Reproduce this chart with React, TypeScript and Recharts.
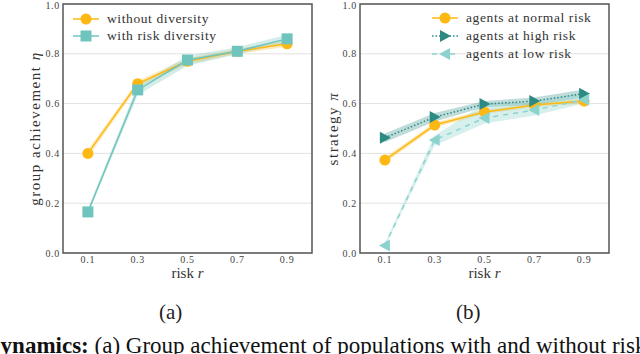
import React from 'react'
import { ComposedChart, Line, Area, XAxis, YAxis, CartesianGrid, ReferenceArea, Legend, Label } from 'recharts'

const risks = [0.1, 0.3, 0.5, 0.7, 0.9]
const yTicks = [0, 0.2, 0.4, 0.6, 0.8, 1.0]

// (a) group achievement
const withoutDiv = [0.4, 0.68, 0.77, 0.81, 0.84]
const withoutDivLo = [0.385, 0.668, 0.758, 0.8, 0.828]
const withoutDivHi = [0.415, 0.692, 0.782, 0.82, 0.852]
const withDiv = [0.165, 0.655, 0.775, 0.81, 0.86]
const withDivLo = [0.155, 0.635, 0.752, 0.798, 0.843]
const withDivHi = [0.178, 0.675, 0.792, 0.826, 0.877]

// (b) strategy
const normalRisk = [0.373, 0.514, 0.566, 0.594, 0.61]
const normalRiskLo = [0.362, 0.504, 0.558, 0.585, 0.6]
const normalRiskHi = [0.385, 0.524, 0.575, 0.602, 0.62]
const highRisk = [0.463, 0.546, 0.598, 0.61, 0.64]
const highRiskLo = [0.445, 0.528, 0.585, 0.595, 0.625]
const highRiskHi = [0.48, 0.562, 0.61, 0.625, 0.657]
const lowRisk = [0.03, 0.454, 0.542, 0.574, 0.615]
const lowRiskLo = [0.025, 0.432, 0.52, 0.552, 0.6]
const lowRiskHi = [0.04, 0.472, 0.598, 0.605, 0.645]

const ORANGE = '#FDB813'
const TEAL = '#6FC4BE'
const DARK = '#2C8A83'
const LIGHT = '#8CD3CE'

const leftData = risks.map((r, i) => ({
  r,
  without: withoutDiv[i],
  withoutBand: [withoutDivLo[i], withoutDivHi[i]],
  with: withDiv[i],
  withBand: [withDivLo[i], withDivHi[i]],
}))

const rightData = risks.map((r, i) => ({
  r,
  normal: normalRisk[i],
  normalBand: [normalRiskLo[i], normalRiskHi[i]],
  high: highRisk[i],
  highBand: [highRiskLo[i], highRiskHi[i]],
  low: lowRisk[i],
  lowBand: [lowRiskLo[i], lowRiskHi[i]],
}))

const circleDot = (color: string) => (p: any) =>
  <circle key={`c${p.index}`} cx={p.cx} cy={p.cy} r={5.5} fill={color} />
const squareDot = (color: string) => (p: any) =>
  <rect key={`s${p.index}`} x={p.cx - 5.5} y={p.cy - 5.5} width={11} height={11} fill={color} />
const triRight = (color: string) => (p: any) =>
  <polygon key={`tr${p.index}`} points={`${p.cx - 5},${p.cy - 6} ${p.cx + 6},${p.cy} ${p.cx - 5},${p.cy + 6}`} fill={color} />
const triLeft = (color: string) => (p: any) =>
  <polygon key={`tl${p.index}`} points={`${p.cx + 5},${p.cy - 6} ${p.cx - 6},${p.cy} ${p.cx + 5},${p.cy + 6}`} fill={color} />

const serif = '"Liberation Serif", serif'
const tickStyle = { fontSize: 10, fill: '#444', fontFamily: serif, letterSpacing: 0.7 }

type Item = { label: string; color: string; dash?: string; marker: (x: number, y: number) => React.ReactNode }

const LegendBox = ({ items, rowH }: { items: Item[]; rowH: number }) => (
  <div>
    {items.map((it) => (
      <div key={it.label} style={{ display: 'flex', alignItems: 'center', height: rowH }}>
        <svg width={26} height={14} style={{ marginRight: 8 }}>
          <line x1={0} y1={7} x2={26} y2={7} stroke={it.color} strokeWidth={1.5} strokeDasharray={it.dash} />
          {it.marker(13, 7)}
        </svg>
        <span style={{ fontFamily: serif, fontSize: 13.5, letterSpacing: 0.6, color: '#333', whiteSpace: 'nowrap' }}>{it.label}</span>
      </div>
    ))}
  </div>
)

const leftItems: Item[] = [
  { label: 'without diversity', color: ORANGE, marker: (x, y) => <circle cx={x} cy={y} r={5.5} fill={ORANGE} /> },
  { label: 'with risk diversity', color: TEAL, marker: (x, y) => <rect x={x - 5.5} y={y - 5.5} width={11} height={11} fill={TEAL} /> },
]

const rightItems: Item[] = [
  { label: 'agents at normal risk', color: ORANGE, marker: (x, y) => <circle cx={x} cy={y} r={5.5} fill={ORANGE} /> },
  { label: 'agents at high risk', color: DARK, dash: '1.5 2', marker: (x, y) => <polygon points={`${x - 5},${y - 6} ${x + 6},${y} ${x - 5},${y + 6}`} fill={DARK} /> },
  { label: 'agents at low risk', color: LIGHT, dash: '5 4', marker: (x, y) => <polygon points={`${x + 5},${y - 6} ${x - 6},${y} ${x + 5},${y + 6}`} fill={LIGHT} /> },
]

const xLabel = (props: any) => {
  const { x, y, width } = props.viewBox
  return (
    <text x={x + width / 2} y={y + 25} textAnchor="middle" fontSize={15} fontFamily={serif} fill="#333">
      risk <tspan fontStyle="italic">r</tspan>
    </text>
  )
}

const yLabel = (text: string, sym: string, cxOff: number) => (props: any) => {
  const { x, y, height } = props.viewBox
  const cx = x + cxOff
  const cy = y + height / 2
  return (
    <text x={cx} y={cy} textAnchor="middle" dominantBaseline="central" fontSize={15} letterSpacing={1.5} fontFamily={serif} fill="#333"
      transform={`rotate(-90 ${cx} ${cy})`}>
      {text} <tspan fontStyle="italic">{sym}</tspan>
    </text>
  )
}

export default function App() {
  return (
    <div style={{ position: 'absolute', left: 0, top: 0, width: 640, height: 354, overflow: 'hidden', background: '#fff' }}>
      <div style={{ position: 'absolute', left: 0, top: 0 }}>
        <ComposedChart width={320} height={300} data={leftData} margin={{ top: 4, right: 8, left: 0, bottom: 17 }}>
          <CartesianGrid vertical={false} stroke="#e2e2e2" />
          <XAxis type="number" dataKey="r" domain={[0, 1]} ticks={risks} tick={tickStyle} tickSize={0} tickMargin={3}
            axisLine={false} height={30} tickFormatter={(v) => v.toFixed(1)}>
            <Label content={xLabel} />
          </XAxis>
          <YAxis type="number" domain={[0, 1]} ticks={yTicks} tick={tickStyle} tickSize={0} tickMargin={3}
            axisLine={false} width={63} tickFormatter={(v) => v.toFixed(1)}>
            <Label content={yLabel('group achievement', 'η', 35)} />
          </YAxis>
          <Area dataKey="withoutBand" stroke="none" fill={ORANGE} fillOpacity={0.3} isAnimationActive={false} />
          <Area dataKey="withBand" stroke="none" fill={TEAL} fillOpacity={0.3} isAnimationActive={false} />
          <Line dataKey="without" stroke={ORANGE} strokeWidth={1.5} dot={circleDot(ORANGE)} activeDot={false} isAnimationActive={false} />
          <Line dataKey="with" stroke={TEAL} strokeWidth={1.5} dot={squareDot(TEAL)} activeDot={false} isAnimationActive={false} />
          <ReferenceArea x1={0} x2={1} y1={0} y2={1} fill="none" stroke="#555" strokeWidth={1.5} ifOverflow="visible" />
          <Legend layout="horizontal" verticalAlign="middle" align="center"
            wrapperStyle={{ left: 73, top: 10, width: 'auto' }}
            content={() => <LegendBox items={leftItems} rowH={17.5} />} />
        </ComposedChart>
      </div>
      <div style={{ position: 'absolute', left: 320, top: 0 }}>
        <ComposedChart width={320} height={300} data={rightData} margin={{ top: 4, right: 31, left: 0, bottom: 17 }}>
          <CartesianGrid vertical={false} stroke="#e2e2e2" />
          <XAxis type="number" dataKey="r" domain={[0, 1]} ticks={risks} tick={tickStyle} tickSize={0} tickMargin={3}
            axisLine={false} height={30} tickFormatter={(v) => v.toFixed(1)}>
            <Label content={xLabel} />
          </XAxis>
          <YAxis type="number" domain={[0, 1]} ticks={yTicks} tick={tickStyle} tickSize={0} tickMargin={3}
            axisLine={false} width={40} tickFormatter={(v) => v.toFixed(1)}>
            <Label content={yLabel('strategy', 'π', 13)} />
          </YAxis>
          <Area dataKey="normalBand" stroke="none" fill={ORANGE} fillOpacity={0.3} isAnimationActive={false} />
          <Area dataKey="highBand" stroke="none" fill={DARK} fillOpacity={0.3} isAnimationActive={false} />
          <Area dataKey="lowBand" stroke="none" fill={LIGHT} fillOpacity={0.35} isAnimationActive={false} />
          <Line dataKey="normal" stroke={ORANGE} strokeWidth={1.5} dot={circleDot(ORANGE)} activeDot={false} isAnimationActive={false} />
          <Line dataKey="high" stroke={DARK} strokeWidth={1.5} strokeDasharray="1.5 2" dot={triRight(DARK)} activeDot={false} isAnimationActive={false} />
          <Line dataKey="low" stroke={LIGHT} strokeWidth={1.5} strokeDasharray="5 5" dot={triLeft(LIGHT)} activeDot={false} isAnimationActive={false} />
          <ReferenceArea x1={0} x2={1} y1={0} y2={1} fill="none" stroke="#555" strokeWidth={1.5} ifOverflow="visible" />
          <Legend layout="horizontal" verticalAlign="middle" align="center"
            wrapperStyle={{ left: 112, top: 9, width: 'auto' }}
            content={() => <LegendBox items={rightItems} rowH={18} />} />
        </ComposedChart>
      </div>
      <div style={{ position: 'absolute', left: 159, top: 300, fontFamily: serif, fontSize: 21, color: '#222' }}>(a)</div>
      <div style={{ position: 'absolute', left: 456, top: 300, fontFamily: serif, fontSize: 21, color: '#222' }}>(b)</div>
      <div style={{ position: 'absolute', left: -16, top: 333, fontFamily: serif, fontSize: 23, color: '#111', whiteSpace: 'nowrap' }}>
        <b>Dynamics:</b> (a) Group achievement of populations with and without risk diversity
      </div>
    </div>
  )
}
